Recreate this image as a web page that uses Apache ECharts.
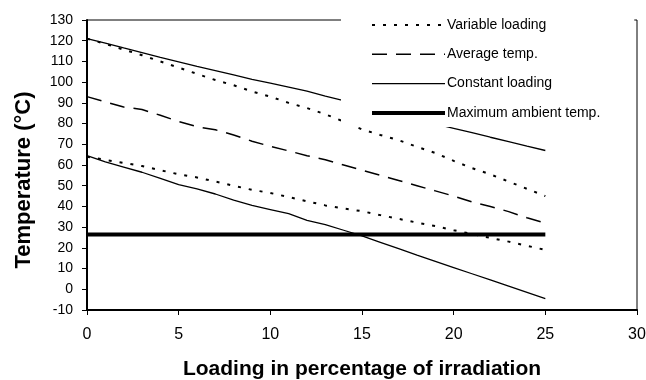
<!DOCTYPE html>
<html>
<head>
<meta charset="utf-8">
<script src="https://cdn.jsdelivr.net/npm/echarts@6/dist/echarts.min.js"></script>
<style>
html,body{margin:0;padding:0;background:#fff;}
#chart{width:646px;height:380px;}
</style>
</head>
<body>
<div id="chart"></div>
<script>
const xValues = [0,1,2,3,4,5,6,7,8,9,10,11,12,13,14,15,16,17,18,19,20,21,22,23,24,25];
const variableUpper = [121,118.5,115.7,113,110,107,104,101,98.5,95.5,93,90,87.5,84.5,81,77.2,74.5,72,68.8,65.8,62,58.5,55.5,52,48.5,45];
const variableLower = [64,62.5,61,59.5,57.5,55.5,54,52,50,48,46.5,44.5,42.5,40.5,39,37.7,35.8,34,32.2,30.5,28.5,26.7,24.8,23,21,19];
const averageTemp = [93,90.5,88,86.8,84,81,78.5,77,74.5,71.5,69,66.8,64.5,62.5,60,57.5,55,52.5,50,47.5,45,42.2,40,37.5,34.5,32];
const constantUpper = [121,118.8,116.5,114.3,112,109.8,107.6,105.6,103.5,101.3,99.5,97.6,95.7,93.3,91.1,88.7,86.3,84,82,79.8,77.7,75.6,73.4,71.3,69.1,67];
const constantLower = [64.5,61.5,59,56.5,53.5,50.5,48.5,46,43,40.5,38.5,36.5,33.3,31.2,28.5,25.8,22.7,19.6,16.5,13.5,10.5,7.5,4.5,1.5,-1.5,-4.5];
const ambientX = [0,25];
const ambientY = [26.4,26.4];
const seriesNames = ['Variable loading','Average temp.','Constant loading','Maximum ambient temp.'];

function pairs(xs, ys){ return xs.map((x,i)=>[x, ys[i]]); }

const font = "'Liberation Sans', Arial, sans-serif";
const chart = echarts.init(document.getElementById('chart'), null, {renderer:'canvas'});

function lineSeries(name, data, type, width){
  return {
    name: name, type: 'line', data: data, showSymbol: false, symbol: 'none',
    animation: false, z: 2,
    itemStyle: {color: '#000'},
    lineStyle: {color:'#000', width: width, type: type}
  };
}

chart.setOption({
  animation: false,
  backgroundColor: '#fff',
  grid: {left: 87, right: 9, top: 20, bottom: 70, show: true, borderColor: '#000', borderWidth: 1,
         backgroundColor: 'transparent', containLabel: false, outerBoundsMode: 'none'},
  legend: {
    orient: 'vertical', left: 341, top: 0,
    padding: [18, 34, 7, 29],
    backgroundColor: '#fff',
    itemWidth: 73, itemHeight: 14, itemGap: 15.3,
    z: 10,
    data: [
      {name: seriesNames[0], lineStyle: {width: 2, type: [3,8]}},
      {name: seriesNames[1], lineStyle: {width: 1.5, type: [15,9]}},
      {name: seriesNames[2], lineStyle: {width: 1.3}},
      {name: seriesNames[3], lineStyle: {width: 4}}
    ],
    itemStyle: {opacity: 0},
    textStyle: {fontFamily: font, fontSize: 14, color: '#000', padding: [0,0,0,-3]},
    selectedMode: false
  },
  xAxis: {
    type: 'value', min: 0, max: 30, interval: 5,
    name: 'Loading in percentage of irradiation', nameLocation: 'middle', nameGap: 49,
    nameTextStyle: {fontFamily: font, fontSize: 21, fontWeight: 'bold', color: '#000'},
    axisLine: {show: true, onZero: false, lineStyle: {color: '#000', width: 2}},
    axisTick: {show: true, length: 5, lineStyle: {color: '#000', width: 1}},
    axisLabel: {fontFamily: font, fontSize: 16, color: '#000', margin: 17},
    splitLine: {show: false}
  },
  yAxis: {
    type: 'value', min: -10, max: 130, interval: 10,
    name: 'Temperature (°C)', nameLocation: 'middle', nameGap: 52, nameRotate: 90,
    nameTextStyle: {fontFamily: font, fontSize: 22, fontWeight: 'bold', color: '#000', padding: [0, 30, 0, 0]},
    axisLine: {show: true, onZero: false, lineStyle: {color: '#000', width: 2}},
    axisTick: {show: true, length: 5, lineStyle: {color: '#000', width: 1}},
    axisLabel: {fontFamily: font, fontSize: 14, color: '#000', margin: 14},
    splitLine: {show: false}
  },
  series: [
    lineSeries(seriesNames[0], pairs(xValues, variableUpper), [3,8], 2),
    lineSeries(seriesNames[0], pairs(xValues, variableLower), [3,8], 2),
    lineSeries(seriesNames[1], pairs(xValues, averageTemp), [15,9], 1.5),
    lineSeries(seriesNames[2], pairs(xValues, constantUpper), 'solid', 1.3),
    lineSeries(seriesNames[2], pairs(xValues, constantLower), 'solid', 1.3),
    lineSeries(seriesNames[3], pairs(ambientX, ambientY), 'solid', 4)
  ]
});
</script>
</body>
</html>
